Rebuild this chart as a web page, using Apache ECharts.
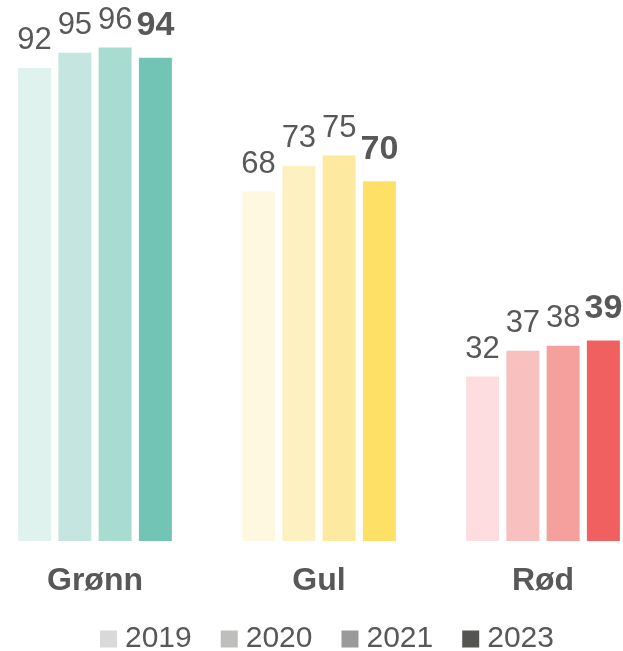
<!DOCTYPE html>
<html>
<head>
<meta charset="utf-8">
<script src="https://cdn.jsdelivr.net/npm/echarts@6/dist/echarts.min.js"></script>
<style>
html,body{margin:0;padding:0;background:#fff;overflow:hidden;width:623px;height:651px;}
#c{position:absolute;left:-17px;top:0;width:672px;height:651px;}
</style>
</head>
<body>
<div id="c"></div>
<script>
const categories = ['Grønn', 'Gul', 'Rød'];
const years = ['2019', '2020', '2021', '2023'];
const v2019 = [92, 68, 32];
const v2020 = [95, 73, 37];
const v2021 = [96, 75, 38];
const v2023 = [94, 70, 39];
const legendColors = ['#d9d9d9', '#bebfbc', '#9a9b98', '#545553'];
const barColors = [
  ['#e0f2ee', '#fff8e0', '#fddde0'],
  ['#c5e6e0', '#fef1c1', '#f9c0c0'],
  ['#a9dcd1', '#fdeaa0', '#f6a09e'],
  ['#72c5b5', '#fee066', '#f06060']
];
const seriesValues = [v2019, v2020, v2021, v2023];

const FONT = 'Liberation Sans, Arial, sans-serif';
const TXT = '#585858';

const chart = echarts.init(document.getElementById('c'), null, {renderer: 'canvas'});
const series = years.map((y, i) => {
  const bold = i === 3;
  return {
    name: y,
    type: 'bar',
    barWidth: 33,
    barGap: '22%',
    itemStyle: {color: legendColors[i]},
    label: {
      show: true,
      position: 'top',
      distance: bold ? 15 : 12,
      color: TXT,
      fontFamily: FONT,
      fontSize: bold ? 34 : 31,
      fontWeight: bold ? 'bold' : 'normal'
    },
    data: seriesValues[i].map((v, k) => ({value: v, itemStyle: {color: barColors[i][k]}}))
  };
});

chart.setOption({
  animation: false,
  backgroundColor: '#fff',
  grid: {left: 0, right: 0, top: 27, bottom: 110, containLabel: false},
  legend: {
    data: years,
    top: 619,
    left: 112,
    icon: 'rect',
    itemWidth: 17,
    itemHeight: 17,
    itemGap: 29,
    textStyle: {fontFamily: FONT, fontSize: 30, color: TXT, padding: [0, 0, 0, 3]}
  },
  xAxis: {
    type: 'category',
    data: categories,
    axisLine: {show: false},
    axisTick: {show: false},
    axisLabel: {margin: 24, fontFamily: FONT, fontSize: 32, fontWeight: 'bold', color: TXT}
  },
  yAxis: {
    type: 'value',
    min: 0,
    max: 100,
    show: false,
    splitLine: {show: false}
  },
  series: series
});
</script>
</body>
</html>
